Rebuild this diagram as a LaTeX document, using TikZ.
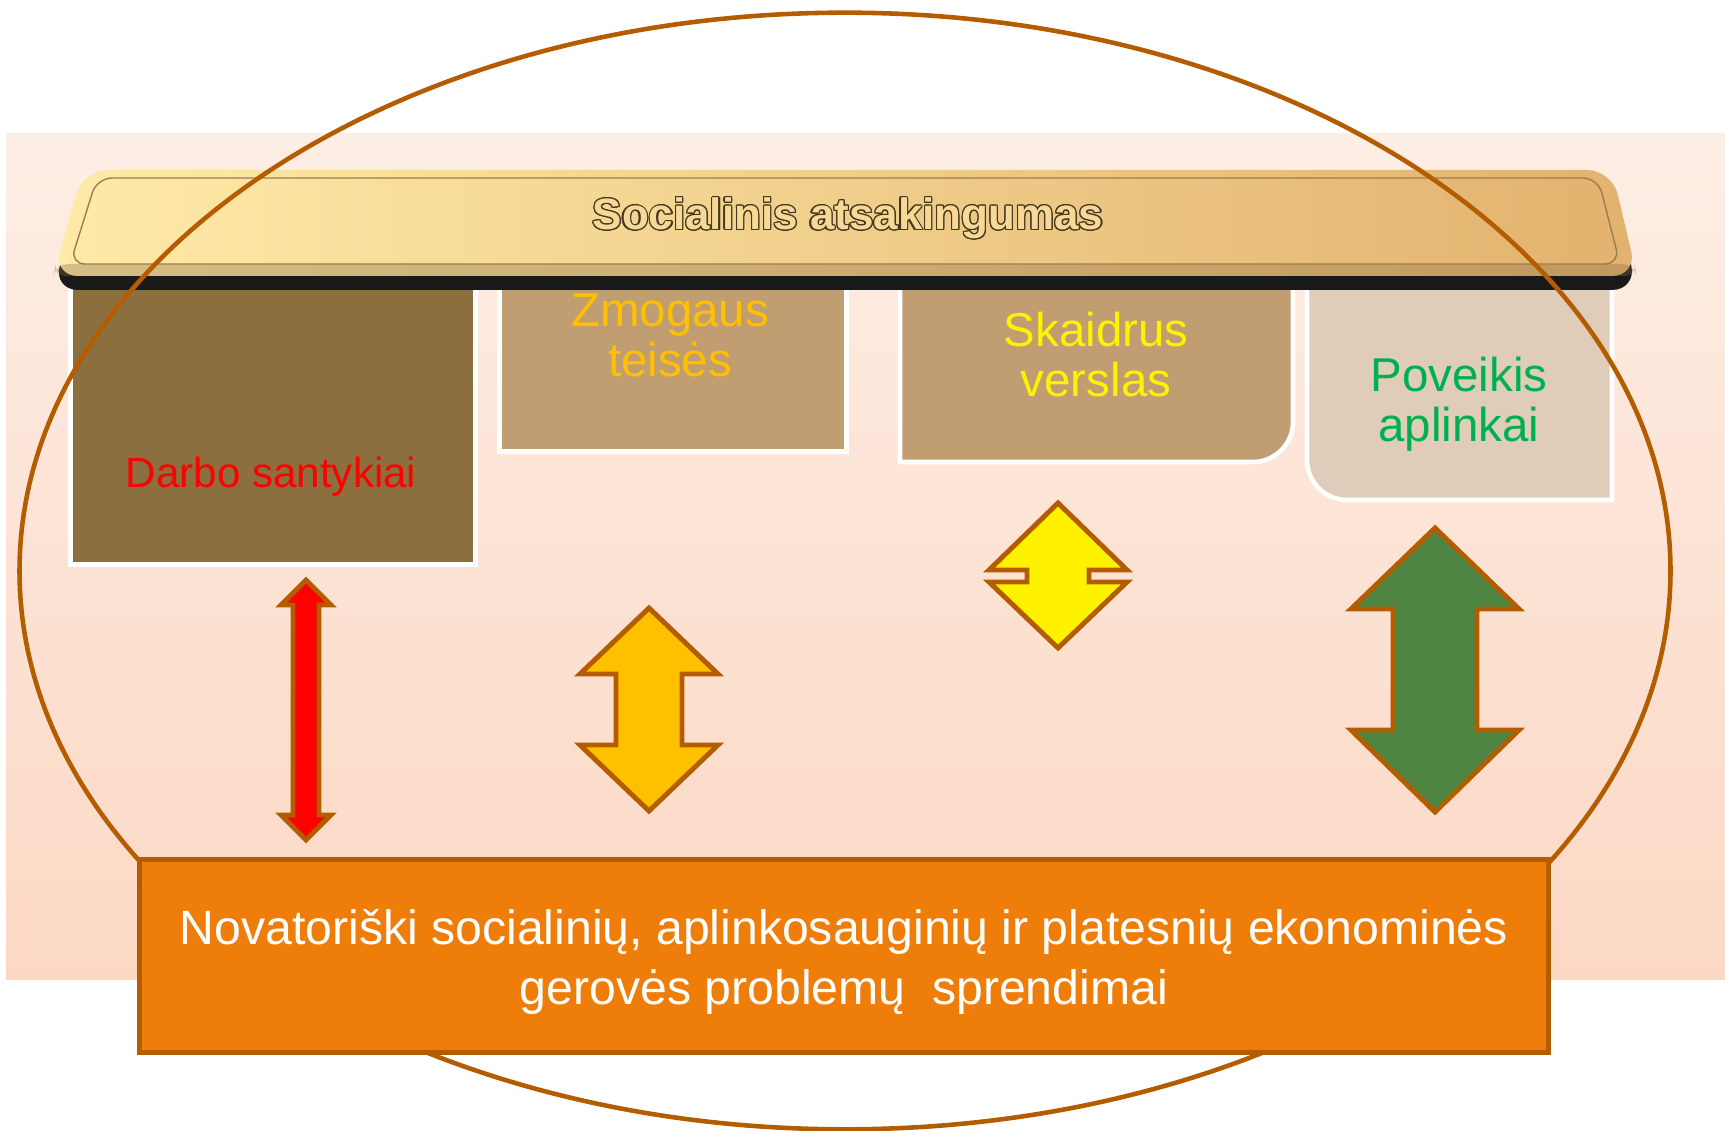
\documentclass[tikz,border=0pt]{standalone}
\usepackage{fontspec}
\setmainfont{Liberation Sans}
\usepackage{contour}
\usetikzlibrary{shapes.geometric,positioning,calc}

\definecolor{rim}{RGB}{180,92,0}
\definecolor{darbo}{RGB}{139,111,63}
\definecolor{boxtan}{RGB}{192,158,114}
\definecolor{pale}{RGB}{223,205,185}
\definecolor{gold}{RGB}{255,192,0}
\definecolor{leaf}{RGB}{78,133,66}
\definecolor{greentext}{RGB}{0,176,80}
\definecolor{novat}{RGB}{239,125,10}
\definecolor{barl}{RGB}{255,234,168}
\definecolor{barr}{RGB}{226,178,110}
\definecolor{bgtop}{RGB}{253,238,229}
\definecolor{bgbot}{RGB}{252,216,196}
\definecolor{ink}{RGB}{70,55,30}
\contourlength{0.35pt}

\begin{document}
\begin{tikzpicture}[x=0.01cm,y=-0.01cm,
    box/.style={draw=white, line width=1.3pt, inner sep=0pt},
    lbl/.style={font=\fontsize{13.5}{14.2}\selectfont, align=center},
    updown/.style={draw=rim, line width=1.4pt, line join=miter}]
    \useasboundingbox (0,0) rectangle (1725,1131);
    \shade[top color=bgtop, bottom color=bgbot] (6,134) rectangle (1725,979);

    % the four boxes under the bar
    \node[box, fill=darbo, minimum width=4.05cm, minimum height=2.97cm, anchor=south west] (darbo) at (68,567) {};
    \node[box, fill=boxtan, minimum width=3.47cm, minimum height=1.84cm, anchor=south west] (zmogus) at (497,454) {};
    \draw[box, fill=boxtan] (900,270) -- (900,462) -- (1253,462)
        .. controls (1275,462) and (1293,444) .. (1293,422) -- (1293,270) -- cycle;
    \draw[box, fill=pale] (1612,270) -- (1612,500) -- (1347,500)
        .. controls (1325,500) and (1307,482) .. (1307,460) -- (1307,270) -- cycle;

    \node[lbl, font=\fontsize{12}{14}\selectfont, text=red] (darbolbl) at (271,477) {Darbo santykiai};
    \node[lbl, text=gold]      (zmlbl) at (670,335)  {Zmogaus\\teisės};
    \node[lbl, text=yellow]    (sklbl) at (1096,355) {Skaidrus\\verslas};
    \node[lbl, text=greentext] (polbl) at (1459,404) {Poveikis\\aplinkai};

    % the bar
    \fill[black!90, rounded corners=0.25cm] (83,184) -- (1612,184) -- (1637,290) -- (53,290) -- cycle;
    \shade[left color=barl, right color=barr, rounded corners=0.25cm] (83,170) -- (1612,170) -- (1637,276) -- (53,276) -- cycle;
    \fill[barr!60!black, opacity=0.35, rounded corners=0.12cm] (56,264) -- (1634,264) -- (1637,276) -- (53,276) -- cycle;
    \draw[barr!70!black, line width=0.4pt, rounded corners=0.15cm] (97,178) -- (1598,178) -- (1620,264) -- (70,264) -- cycle;
    \node[text=barl!70!barr, font=\fontsize{12.5}{14}\selectfont\bfseries] (title) at (848,219) {\contour{ink}{Socialinis atsakingumas}};

    \node[ellipse, draw=rim, line width=1.3pt, minimum width=16.5cm, minimum height=11.16cm] (frame) at (845,571) {};

    % up-down arrows
    \draw[updown, fill=red] (306,580) -- (331,605) -- (319,605) -- (319,815) -- (331,815) -- (306,840)
        -- (281,815) -- (293,815) -- (293,605) -- (281,605) -- cycle;
    \draw[updown, fill=gold] (649,608) -- (718,674) -- (682,674) -- (682,745) -- (718,745) -- (649,811)
        -- (580,745) -- (616,745) -- (616,674) -- (580,674) -- cycle;
    \draw[updown, fill=yellow] (1058,503) -- (1127,570) -- (1089,570) -- (1089,582) -- (1127,582) -- (1058,648)
        -- (989,582) -- (1027,582) -- (1027,570) -- (989,570) -- cycle;
    \draw[updown, fill=leaf] (1435,528) -- (1519,609) -- (1477,609) -- (1477,730) -- (1519,730) -- (1435,812)
        -- (1351,730) -- (1393,730) -- (1393,609) -- (1351,609) -- cycle;

    \node[draw=rim, fill=novat, line width=1.3pt, minimum width=14.08cm, minimum height=1.93cm,
          label={[text=white, align=center, font=\fontsize{13.7}{16.8}\selectfont, yshift=-0.06cm]center:Novatoriški socialinių, aplinkosauginių ir platesnių ekonominės\\gerovės problemų~~sprendimai}]
        (novat) at (844,956) {};
\end{tikzpicture}
\end{document}
